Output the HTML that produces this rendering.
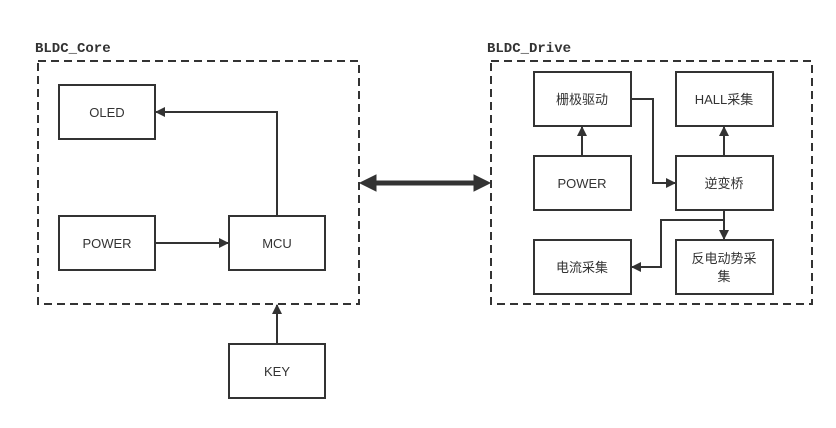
<!DOCTYPE html>
<html><head><meta charset="utf-8"><style>
html,body{margin:0;padding:0;background:#fff;}
svg text{font-family:"Liberation Sans","Noto Sans CJK SC",sans-serif;font-size:13px;fill:#333;}
</style></head><body>
<svg width="836" height="423" viewBox="0 0 836 423" xmlns="http://www.w3.org/2000/svg">
<defs>
<marker id="a" markerWidth="10" markerHeight="10" refX="9" refY="5" orient="auto" markerUnits="userSpaceOnUse"><path d="M0,0 L10,5 L0,10 z" fill="#333"/></marker>
</defs>
<g fill="none" stroke="#333" stroke-width="2" stroke-dasharray="8,5">
<rect x="38" y="61" width="321" height="243"/>
<rect x="491" y="61" width="321" height="243"/>
</g>
<text x="35" y="52" style="font-family:'Liberation Mono',monospace;font-size:14px;font-weight:bold;fill:#333">BLDC_Core</text>
<text x="487" y="52" style="font-family:'Liberation Mono',monospace;font-size:14px;font-weight:bold;fill:#333">BLDC_Drive</text>
<g fill="#fff" stroke="#333" stroke-width="2">
<rect x="59" y="85" width="96" height="54"/>
<rect x="59" y="216" width="96" height="54"/>
<rect x="229" y="216" width="96" height="54"/>
<rect x="229" y="344" width="96" height="54"/>
<rect x="534" y="72" width="97" height="54"/>
<rect x="676" y="72" width="97" height="54"/>
<rect x="534" y="156" width="97" height="54"/>
<rect x="676" y="156" width="97" height="54"/>
<rect x="534" y="240" width="97" height="54"/>
<rect x="676" y="240" width="97" height="54"/>
</g>
<g text-anchor="middle">
<text x="107" y="117">OLED</text>
<text x="107" y="248">POWER</text>
<text x="277" y="248">MCU</text>
<text x="277" y="376">KEY</text>
<text x="582" y="104">栅极驱动</text>
<text x="724" y="104">HALL采集</text>
<text x="582" y="188">POWER</text>
<text x="724" y="188">逆变桥</text>
<text x="582" y="272">电流采集</text>
<text x="724" y="263">反电动势采</text>
<text x="724" y="281">集</text>
</g>
<g fill="none" stroke="#333" stroke-width="2" marker-end="url(#a)">
<path d="M277,216 V112 H156"/>
<path d="M155,243 H228"/>
<path d="M277,344 V305"/>
<path d="M631,99 H653 V183 H675"/>
<path d="M582,156 V127"/>
<path d="M724,156 V127"/>
<path d="M724,210 V239"/>
<path d="M724,220 H661 V267 H632"/>
</g>
<g fill="#333" stroke="#333">
<line x1="372" y1="183" x2="478" y2="183" stroke-width="5"/>
<path d="M360,183 L376,175 L376,191 z"/>
<path d="M490,183 L474,175 L474,191 z"/>
</g>
</svg>
</body></html>
